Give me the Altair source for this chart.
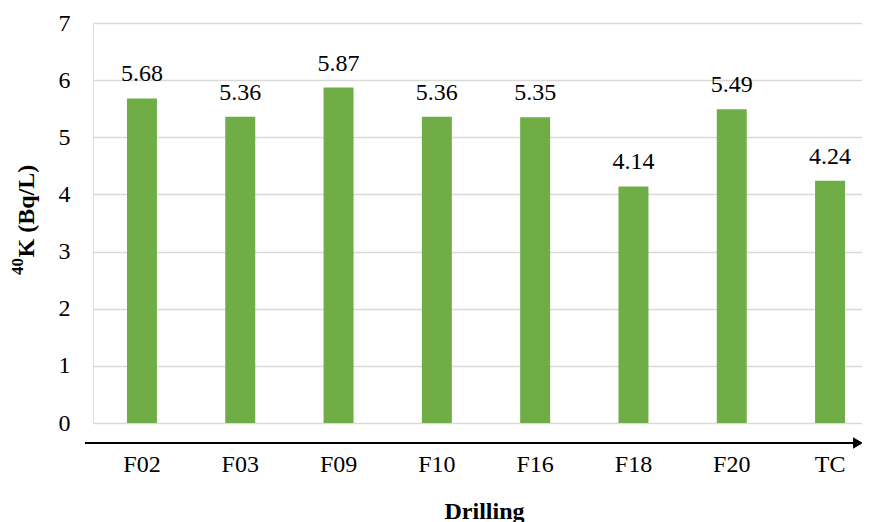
import altair as alt
import pandas as pd

drilling = ["F02", "F03", "F09", "F10", "F16", "F18", "F20", "TC"]
k40 = [5.68, 5.36, 5.87, 5.36, 5.35, 4.14, 5.49, 4.24]
y_ticks = [0, 1, 2, 3, 4, 5, 6, 7]

df = pd.DataFrame({"Drilling": drilling, "K40": k40})
df["label"] = [f"{v:.2f}" for v in k40]

W, H = 769, 400
FONT = "Liberation Serif"

x_enc = alt.X(
    "Drilling:N",
    sort=drilling,
    scale=alt.Scale(paddingInner=0.695, paddingOuter=0.259, align=0.667),
    axis=alt.Axis(
        title="Drilling",
        labelAngle=0,
        labelFont=FONT,
        labelFontSize=24,
        labelColor="#000000",
        labelBaseline="top",
        labelPadding=29,
        ticks=False,
        domain=False,
        grid=False,
        titleFont=FONT,
        titleFontSize=24,
        titleFontWeight="bold",
        titleColor="#000000",
        titleBaseline="top",
        titleAlign="center",
        titleX=391,
        titleY=76,
    ),
)

y_enc = alt.Y(
    "K40:Q",
    scale=alt.Scale(domain=[0, 7], nice=False),
    axis=alt.Axis(
        title="K (Bq/L)",
        values=y_ticks,
        format="d",
        labelFont=FONT,
        labelFontSize=24,
        labelColor="#000000",
        labelPadding=23,
        ticks=False,
        domain=False,
        grid=True,
        gridColor="#d9d9d9",
        gridWidth=1.5,
        titleFont=FONT,
        titleFontSize=24,
        titleFontWeight="bold",
        titleColor="#000000",
        titleAngle=270,
        titleBaseline="alphabetic",
        titleAlign="left",
        titleX=-60,
        titleY=234,
    ),
)

base = alt.Chart(df)

bars = base.mark_bar(color="#70AD47").encode(x=x_enc, y=y_enc)

labels = base.mark_text(
    font=FONT, fontSize=24, color="#000000", baseline="alphabetic", dy=-17
).encode(x=alt.X("Drilling:N", sort=drilling), y="K40:Q", text="label:N")

sup = alt.Chart(pd.DataFrame({"t": ["40"]})).mark_text(
    font=FONT, fontSize=17, fontWeight="bold", color="#000000",
    angle=270, align="left", baseline="alphabetic"
).encode(x=alt.value(-70), y=alt.value(252), text="t:N")

axis_line = alt.Chart(df).mark_rule(color="#000000", strokeWidth=2).encode(
    x=alt.value(-8), x2=alt.value(W - 6), y=alt.value(H + 20)
)

arrow = alt.Chart(pd.DataFrame({"a": [0]})).mark_point(
    shape="triangle-right", filled=True, color="#000000", size=130, opacity=1
).encode(x=alt.value(W - 4), y=alt.value(H + 20))

chart = (
    alt.layer(bars, labels, sup, axis_line, arrow)
    .properties(
        width=W,
        height=H,
        autosize=alt.AutoSizeParams(type="none"),
        padding={"left": 85, "top": 15, "right": 0, "bottom": 99},
    )
    .configure_view(stroke=None)
    .configure(background="white")
)

chart.save("out.html", embed_options={"renderer": "svg", "actions": False})
